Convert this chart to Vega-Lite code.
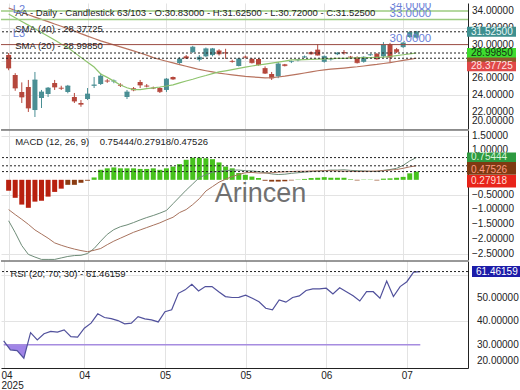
{
"$schema": "https://vega.github.io/schema/vega-lite/v6.json",
"padding": {"left": 0, "top": 3, "right": 0, "bottom": 0},
"spacing": 1,
"bounds": "flush",
"config": {
  "view": {"stroke": null},
  "font": "Liberation Sans",
  "axis": {"labelFont": "Liberation Sans", "labelFontSize": 10, "labelColor": "#222", "gridColor": "#e3e3e3", "domainColor": "#222"},
  "concat": {"spacing": 1}
},
"datasets": {
  "d": [
{"i":0,"o":28.76,"h":29.0,"l":26.95,"c":27.21,"s20":33.64,"s40":34.36,"m":-1.39,"sg":-1.01,"hv":-0.37,"hc":"n1","r":31.7},
{"i":1,"o":26.38,"h":26.6,"l":24.5,"c":24.83,"s20":33.2,"s40":34.08,"m":-1.79,"sg":-1.18,"hv":-0.61,"hc":"n1","r":27.8},
{"i":2,"o":24.36,"h":25.5,"l":23.05,"c":23.76,"s20":32.76,"s40":33.82,"m":-2.23,"sg":-1.34,"hv":-0.84,"hc":"n1","r":27.5},
{"i":3,"o":24.95,"h":25.79,"l":21.98,"c":22.45,"s20":32.32,"s40":33.55,"m":-2.53,"sg":-1.51,"hv":-0.95,"hc":"n1","r":24.2},
{"i":4,"o":22.21,"h":26.74,"l":21.38,"c":25.79,"s20":31.88,"s40":33.27,"m":-2.62,"sg":-1.7,"hv":-0.74,"hc":"n1","r":35.2},
{"i":5,"o":23.64,"h":24.6,"l":22.45,"c":24.36,"s20":31.44,"s40":33.0,"m":-2.7,"sg":-1.84,"hv":-0.71,"hc":"n1","r":32.1},
{"i":6,"o":24.12,"h":24.95,"l":23.76,"c":24.83,"s20":30.99,"s40":32.73,"m":-2.7,"sg":-1.98,"hv":-0.57,"hc":"n1","r":34.7},
{"i":7,"o":25.43,"h":25.79,"l":24.6,"c":24.95,"s20":30.55,"s40":32.45,"m":-2.7,"sg":-2.14,"hv":-0.41,"hc":"n1","r":35.7},
{"i":8,"o":24.85,"h":25.1,"l":24.6,"c":24.8,"s20":30.08,"s40":32.19,"m":-2.65,"sg":-2.22,"hv":-0.3,"hc":"n1","r":35.4},
{"i":9,"o":24.36,"h":25.2,"l":24.2,"c":25.07,"s20":29.64,"s40":31.9,"m":-2.6,"sg":-2.29,"hv":-0.17,"hc":"n2","r":36.4},
{"i":10,"o":23.76,"h":24.24,"l":23.05,"c":23.28,"s20":29.06,"s40":31.62,"m":-2.57,"sg":-2.35,"hv":-0.17,"hc":"n2","r":33.5},
{"i":11,"o":23.05,"h":23.4,"l":22.6,"c":22.9,"s20":28.48,"s40":31.3,"m":-2.56,"sg":-2.4,"hv":-0.1,"hc":"n2","r":33.3},
{"i":12,"o":23.52,"h":24.83,"l":23.4,"c":24.12,"s20":27.9,"s40":31.01,"m":-2.5,"sg":-2.44,"hv":-0.03,"hc":"n2","r":37.1},
{"i":13,"o":25.1,"h":26.14,"l":24.83,"c":25.2,"s20":27.33,"s40":30.73,"m":-2.33,"sg":-2.39,"hv":0.08,"hc":"p","r":39.3},
{"i":14,"o":25.31,"h":26.6,"l":25.19,"c":26.26,"s20":26.51,"s40":30.44,"m":-2.08,"sg":-2.33,"hv":0.34,"hc":"p","r":43.3},
{"i":15,"o":25.7,"h":25.9,"l":25.45,"c":25.65,"s20":26.1,"s40":30.2,"m":-1.85,"sg":-2.2,"hv":0.39,"hc":"p","r":41.7},
{"i":16,"o":25.62,"h":25.85,"l":25.4,"c":25.68,"s20":25.65,"s40":29.96,"m":-1.69,"sg":-2.08,"hv":0.42,"hc":"p","r":41.2},
{"i":17,"o":25.22,"h":25.4,"l":24.95,"c":25.15,"s20":25.19,"s40":29.73,"m":-1.59,"sg":-1.98,"hv":0.39,"hc":"p","r":40.4},
{"i":18,"o":23.76,"h":24.6,"l":23.52,"c":24.36,"s20":24.86,"s40":29.49,"m":-1.53,"sg":-1.88,"hv":0.39,"hc":"p","r":39.0},
{"i":19,"o":24.8,"h":24.95,"l":24.45,"c":24.6,"s20":24.64,"s40":29.25,"m":-1.45,"sg":-1.78,"hv":0.39,"hc":"p","r":39.3},
{"i":20,"o":25.55,"h":25.79,"l":24.83,"c":25.19,"s20":24.64,"s40":29.0,"m":-1.36,"sg":-1.7,"hv":0.37,"hc":"p","r":42.1},
{"i":21,"o":25.1,"h":25.3,"l":24.9,"c":25.05,"s20":24.75,"s40":28.75,"m":-1.28,"sg":-1.62,"hv":0.37,"hc":"p","r":41.1},
{"i":22,"o":24.85,"h":25.0,"l":24.7,"c":24.82,"s20":24.85,"s40":28.45,"m":-1.21,"sg":-1.54,"hv":0.39,"hc":"p","r":40.7},
{"i":23,"o":24.83,"h":24.95,"l":24.24,"c":24.4,"s20":24.95,"s40":28.23,"m":-1.13,"sg":-1.46,"hv":0.34,"hc":"p","r":39.8},
{"i":24,"o":24.6,"h":26.02,"l":24.36,"c":25.9,"s20":25.07,"s40":28.02,"m":-1.04,"sg":-1.36,"hv":0.39,"hc":"p","r":44.2},
{"i":25,"o":26.14,"h":26.2,"l":25.8,"c":25.9,"s20":25.21,"s40":27.82,"m":-0.81,"sg":-1.27,"hv":0.45,"hc":"p","r":45.0},
{"i":26,"o":27.81,"h":28.52,"l":27.7,"c":28.29,"s20":25.44,"s40":27.62,"m":-0.58,"sg":-1.11,"hv":0.53,"hc":"p","r":52.1},
{"i":27,"o":28.6,"h":28.75,"l":28.3,"c":28.4,"s20":25.67,"s40":27.42,"m":-0.35,"sg":-1.01,"hv":0.68,"hc":"p","r":53.6},
{"i":28,"o":29.12,"h":29.85,"l":29.0,"c":29.7,"s20":25.88,"s40":27.23,"m":-0.14,"sg":-0.84,"hv":0.75,"hc":"p","r":56.0},
{"i":29,"o":28.2,"h":28.76,"l":28.0,"c":28.5,"s20":26.11,"s40":27.04,"m":0.08,"sg":-0.64,"hv":0.75,"hc":"p","r":53.1},
{"i":30,"o":28.6,"h":29.65,"l":28.5,"c":29.5,"s20":26.32,"s40":26.89,"m":0.17,"sg":-0.38,"hv":0.73,"hc":"p","r":55.0},
{"i":31,"o":28.75,"h":29.6,"l":28.6,"c":29.5,"s20":26.55,"s40":26.75,"m":0.26,"sg":-0.23,"hv":0.7,"hc":"p","r":55.0},
{"i":32,"o":29.3,"h":29.45,"l":28.7,"c":28.9,"s20":26.75,"s40":26.61,"m":0.29,"sg":-0.08,"hv":0.59,"hc":"p","r":52.8},
{"i":33,"o":29.05,"h":29.5,"l":28.3,"c":29.0,"s20":26.88,"s40":26.5,"m":0.31,"sg":0.02,"hv":0.45,"hc":"p","r":50.7},
{"i":34,"o":28.05,"h":28.2,"l":27.85,"c":28.0,"s20":27.02,"s40":26.4,"m":0.33,"sg":0.11,"hv":0.39,"hc":"p","r":50.3},
{"i":35,"o":27.45,"h":28.4,"l":27.4,"c":28.3,"s20":27.17,"s40":26.31,"m":0.33,"sg":0.18,"hv":0.23,"hc":"p","r":50.4},
{"i":36,"o":28.55,"h":28.7,"l":28.35,"c":28.5,"s20":27.32,"s40":26.21,"m":0.31,"sg":0.24,"hv":0.17,"hc":"p","r":51.3},
{"i":37,"o":28.3,"h":28.4,"l":27.75,"c":27.85,"s20":27.45,"s40":26.15,"m":0.3,"sg":0.25,"hv":0.11,"hc":"p","r":50.0},
{"i":38,"o":28.3,"h":28.4,"l":27.5,"c":27.6,"s20":27.57,"s40":26.1,"m":0.28,"sg":0.23,"hv":0.06,"hc":"p","r":48.5},
{"i":39,"o":27.2,"h":27.4,"l":26.5,"c":26.6,"s20":27.68,"s40":26.05,"m":0.24,"sg":0.23,"hv":-0.03,"hc":"n2","r":45.7},
{"i":40,"o":26.5,"h":26.74,"l":25.79,"c":26.02,"s20":27.8,"s40":26.06,"m":0.2,"sg":0.24,"hv":-0.06,"hc":"n2","r":45.0},
{"i":41,"o":26.2,"h":27.93,"l":26.0,"c":27.7,"s20":27.92,"s40":26.14,"m":0.18,"sg":0.26,"hv":-0.06,"hc":"n2","r":49.3},
{"i":42,"o":27.65,"h":27.7,"l":27.4,"c":27.5,"s20":28.04,"s40":26.24,"m":0.19,"sg":0.27,"hv":-0.05,"hc":"n2","r":48.3},
{"i":43,"o":27.95,"h":28.1,"l":27.8,"c":27.98,"s20":28.17,"s40":26.36,"m":0.22,"sg":0.28,"hv":-0.02,"hc":"n2","r":50.3},
{"i":44,"o":28.15,"h":28.3,"l":28.0,"c":28.2,"s20":28.19,"s40":26.49,"m":0.24,"sg":0.29,"hv":0.01,"hc":"p","r":51.0},
{"i":45,"o":28.5,"h":28.7,"l":28.4,"c":28.55,"s20":28.21,"s40":26.62,"m":0.26,"sg":0.29,"hv":0.03,"hc":"p","r":53.3},
{"i":46,"o":29.1,"h":29.2,"l":28.8,"c":28.9,"s20":28.24,"s40":26.75,"m":0.28,"sg":0.3,"hv":0.06,"hc":"p","r":54.0},
{"i":47,"o":29.4,"h":30.05,"l":28.7,"c":28.75,"s20":28.27,"s40":26.89,"m":0.3,"sg":0.3,"hv":0.07,"hc":"p","r":54.0},
{"i":48,"o":27.95,"h":28.7,"l":27.85,"c":28.6,"s20":28.29,"s40":27.0,"m":0.31,"sg":0.31,"hv":0.09,"hc":"p","r":54.3},
{"i":49,"o":28.25,"h":28.4,"l":28.1,"c":28.3,"s20":28.32,"s40":27.07,"m":0.33,"sg":0.31,"hv":0.07,"hc":"p","r":51.8},
{"i":50,"o":28.85,"h":29.1,"l":28.75,"c":29.0,"s20":28.35,"s40":27.14,"m":0.33,"sg":0.3,"hv":0.07,"hc":"p","r":54.5},
{"i":51,"o":29.1,"h":29.35,"l":28.8,"c":29.0,"s20":28.37,"s40":27.21,"m":0.34,"sg":0.29,"hv":0.07,"hc":"p","r":52.8},
{"i":52,"o":28.55,"h":28.65,"l":28.4,"c":28.5,"s20":28.39,"s40":27.29,"m":0.32,"sg":0.29,"hv":0.02,"hc":"p","r":51.1},
{"i":53,"o":28.5,"h":28.6,"l":27.75,"c":27.85,"s20":28.42,"s40":27.36,"m":0.31,"sg":0.28,"hv":-0.02,"hc":"n2","r":48.8},
{"i":54,"o":27.95,"h":28.6,"l":27.85,"c":28.5,"s20":28.44,"s40":27.45,"m":0.3,"sg":0.29,"hv":0.01,"hc":"p","r":52.8},
{"i":55,"o":28.75,"h":28.9,"l":28.65,"c":28.8,"s20":28.46,"s40":27.55,"m":0.29,"sg":0.29,"hv":0.01,"hc":"p","r":52.8},
{"i":56,"o":28.9,"h":29.0,"l":28.2,"c":28.3,"s20":28.49,"s40":27.64,"m":0.28,"sg":0.3,"hv":-0.02,"hc":"n2","r":50.0},
{"i":57,"o":28.6,"h":30.3,"l":28.5,"c":29.95,"s20":28.51,"s40":27.75,"m":0.32,"sg":0.31,"hv":0.04,"hc":"p","r":57.4},
{"i":58,"o":30.07,"h":30.2,"l":27.8,"c":28.5,"s20":28.58,"s40":27.86,"m":0.35,"sg":0.33,"hv":0.05,"hc":"p","r":50.7},
{"i":59,"o":29.45,"h":29.6,"l":29.0,"c":29.15,"s20":28.69,"s40":27.99,"m":0.39,"sg":0.35,"hv":0.07,"hc":"p","r":55.0},
{"i":60,"o":29.7,"h":30.3,"l":29.6,"c":30.2,"s20":28.79,"s40":28.12,"m":0.49,"sg":0.39,"hv":0.1,"hc":"p","r":57.1},
{"i":61,"o":30.9,"h":31.6,"l":30.8,"c":31.45,"s20":28.89,"s40":28.25,"m":0.64,"sg":0.44,"hv":0.22,"hc":"p","r":61.2},
{"i":62,"o":30.83,"h":31.625,"l":30.72,"c":31.525,"s20":28.9985,"s40":28.37725,"m":0.75444,"sg":0.47526,"hv":0.27918,"hc":"p","r":61.46159}
  ],
  "rsifill": [
{"i":0.44,"v":30},{"i":1,"v":27.8},{"i":2,"v":27.5},{"i":3,"v":24.2},{"i":3.53,"v":30}
  ],
  "ytop": [{"t":22},{"t":24},{"t":26},{"t":28},{"t":30},{"t":32},{"t":34}],
  "ymacd": [{"t":-2.5},{"t":-2},{"t":-1.5},{"t":-1},{"t":-0.5},{"t":0},{"t":0.5},{"t":1}],
  "yrsi": [{"t":30},{"t":40},{"t":50}],
  "one": [{}]
},
"vconcat": [
{
  "width": 467, "height": 126,
  "data": {"name": "d"},
  "layer": [
    {"mark": {"type": "rule", "strokeWidth": 1},
     "encoding": {
       "x": {"field": "i", "type": "quantitative", "title": null, "scale": {"domain": [-0.4, 69.1], "nice": false, "zero": false},
             "axis": {"values": [0,12,24,36,48,60], "grid": true, "labels": false, "ticks": false, "domain": false, "title": null}},
       "y": {"field": "l", "type": "quantitative", "title": null, "scale": {"domain": [19.952, 34.952], "nice": false, "zero": false},
             "axis": {"orient": "right", "values": [20,22,24,26,28,30,32,34], "grid": true, "labels": false, "ticks": false, "domain": true, "title": null}},
       "y2": {"field": "h"},
       "color": {"condition": {"test": "datum.c >= datum.o", "value": "#4a8f94"}, "value": "#b5473c"}
     }},
    {"mark": {"type": "bar", "size": 5},
     "encoding": {
       "x": {"field": "i", "type": "quantitative", "title": null},
       "y": {"field": "o", "type": "quantitative", "title": null},
       "y2": {"field": "c"},
       "color": {"condition": {"test": "datum.c >= datum.o", "value": "#4a8f94"}, "value": "#b5473c"}
     }},
    {"mark": {"type": "tick", "orient": "horizontal", "size": 5, "thickness": 1},
     "encoding": {
       "x": {"field": "i", "type": "quantitative", "title": null},
       "y": {"field": "c", "type": "quantitative", "title": null},
       "color": {"condition": {"test": "datum.c >= datum.o", "value": "#4a8f94"}, "value": "#b5473c"}
     }},
    {"mark": {"type": "line", "color": "#b8735f", "strokeWidth": 1.2},
     "encoding": {"x": {"field": "i", "type": "quantitative", "title": null}, "y": {"field": "s40", "type": "quantitative", "title": null}}},
    {"mark": {"type": "line", "color": "#8fc46e", "strokeWidth": 1.2},
     "encoding": {"x": {"field": "i", "type": "quantitative", "title": null}, "y": {"field": "s20", "type": "quantitative", "title": null}}},
    {"data": {"name": "one"}, "mark": {"type": "rule", "color": "#9ccb80", "strokeWidth": 1.5}, "encoding": {"y": {"datum": 34}}},
    {"data": {"name": "one"}, "mark": {"type": "rule", "color": "#9ccb80", "strokeWidth": 1.5}, "encoding": {"y": {"datum": 33}}},
    {"data": {"name": "one"}, "mark": {"type": "rule", "color": "#9a4a42", "strokeWidth": 1}, "encoding": {"y": {"datum": 30}}},
    {"data": {"name": "one"}, "mark": {"type": "rule", "color": "#222", "strokeWidth": 1, "strokeDash": [2, 2]}, "encoding": {"y": {"datum": 31.525}}},
    {"data": {"name": "one"}, "mark": {"type": "rule", "color": "#222", "strokeWidth": 1, "strokeDash": [2, 2]}, "encoding": {"y": {"datum": 28.9985}}},
    {"data": {"name": "one"}, "mark": {"type": "rule", "color": "#222", "strokeWidth": 1, "strokeDash": [2, 2]}, "encoding": {"y": {"datum": 28.37725}}},
    {"data": {"name": "one"}, "mark": {"type": "text", "align": "left", "baseline": "middle", "fontSize": 9.5, "color": "#222", "text": "AA - Daily - Candlestick 63/103 - O:30.83000 - H:31.62500 - L:30.72000 - C:31.52500"},
     "encoding": {"x": {"datum": 1}, "y": {"datum": 33.82}}},
    {"data": {"name": "one"}, "mark": {"type": "text", "align": "left", "baseline": "middle", "fontSize": 9.5, "color": "#222", "text": "SMA (40) - 28.37725"},
     "encoding": {"x": {"datum": 1}, "y": {"datum": 31.8}}},
    {"data": {"name": "one"}, "mark": {"type": "text", "align": "left", "baseline": "middle", "fontSize": 9.5, "color": "#222", "text": "SMA (20) - 28.99850"},
     "encoding": {"x": {"datum": 1}, "y": {"datum": 29.8}}},
    {"data": {"name": "one"}, "mark": {"type": "text", "align": "left", "baseline": "alphabetic", "fontSize": 11, "color": "#6b7fd7", "text": "L2", "dy": -6.7},
     "encoding": {"x": {"datum": 0.64}, "y": {"datum": 33}}},
    {"data": {"name": "one"}, "mark": {"type": "text", "align": "left", "baseline": "alphabetic", "fontSize": 11, "color": "#6b7fd7", "text": "L3", "dy": -7.3},
     "encoding": {"x": {"datum": 0.64}, "y": {"datum": 30}}},
    {"data": {"name": "one"}, "mark": {"type": "text", "align": "left", "baseline": "alphabetic", "fontSize": 11.5, "color": "#6b7fd7", "text": "34.0000", "dy": -2, "clip": true},
     "encoding": {"x": {"datum": 57.94}, "y": {"datum": 34}}},
    {"data": {"name": "one"}, "mark": {"type": "text", "align": "left", "baseline": "alphabetic", "fontSize": 11.5, "color": "#6b7fd7", "text": "33.0000", "dy": -2},
     "encoding": {"x": {"datum": 57.94}, "y": {"datum": 33}}},
    {"data": {"name": "one"}, "mark": {"type": "text", "align": "left", "baseline": "alphabetic", "fontSize": 11.5, "color": "#6b7fd7", "text": "30.0000", "dy": -2.5},
     "encoding": {"x": {"datum": 57.94}, "y": {"datum": 30}}},
    {"data": {"name": "ytop"}, "mark": {"type": "text", "align": "left", "baseline": "middle", "dx": 9, "fontSize": 10, "color": "#222"},
     "encoding": {"x": {"datum": 69.1}, "y": {"field": "t", "type": "quantitative", "title": null}, "text": {"field": "t", "type": "quantitative", "format": ".5f"}}},
    {"data": {"name": "one"}, "mark": {"type": "text", "align": "left", "baseline": "middle", "dx": 9, "dy": -7.5, "fontSize": 10, "color": "#222", "text": "20.00000"},
     "encoding": {"x": {"datum": 69.1}, "y": {"datum": 20}}},
    {"data": {"name": "one"}, "mark": {"type": "rect", "color": "#8b5a2b", "xOffset": 4, "x2Offset": 53, "yOffset": -5, "y2Offset": 5},
     "encoding": {"x": {"datum": 69.1}, "x2": {"datum": 69.1}, "y": {"datum": 28.37725}, "y2": {"datum": 28.37725}}},
    {"data": {"name": "one"}, "mark": {"type": "rect", "color": "#3ddc2e", "xOffset": 4, "x2Offset": 53, "yOffset": -5, "y2Offset": 4.5},
     "encoding": {"x": {"datum": 69.1}, "x2": {"datum": 69.1}, "y": {"datum": 28.9985}, "y2": {"datum": 28.9985}}},
    {"data": {"name": "one"}, "mark": {"type": "rect", "color": "#e04848", "xOffset": 4, "x2Offset": 53, "yOffset": 3.5, "y2Offset": 13},
     "encoding": {"x": {"datum": 69.1}, "x2": {"datum": 69.1}, "y": {"datum": 28.37725}, "y2": {"datum": 28.37725}}},
    {"data": {"name": "one"}, "mark": {"type": "rect", "color": "#3d8f8f", "xOffset": 4, "x2Offset": 53, "yOffset": -5, "y2Offset": 5},
     "encoding": {"x": {"datum": 69.1}, "x2": {"datum": 69.1}, "y": {"datum": 31.525}, "y2": {"datum": 31.525}}},
    {"data": {"name": "one"}, "mark": {"type": "text", "align": "left", "baseline": "middle", "dx": 8, "fontSize": 10, "color": "#e8f6f6", "text": "31.52500"},
     "encoding": {"x": {"datum": 69.1}, "y": {"datum": 31.525}}},
    {"data": {"name": "one"}, "mark": {"type": "text", "align": "left", "baseline": "middle", "dx": 8, "dy": -0.3, "fontSize": 10, "color": "#143214", "text": "28.99850"},
     "encoding": {"x": {"datum": 69.1}, "y": {"datum": 28.9985}}},
    {"data": {"name": "one"}, "mark": {"type": "text", "align": "left", "baseline": "middle", "dx": 8, "dy": 8.2, "fontSize": 10, "color": "#ffe4e4", "text": "28.37725"},
     "encoding": {"x": {"datum": 69.1}, "y": {"datum": 28.37725}}}
  ]
},
{
  "width": 467, "height": 130,
  "data": {"name": "d"},
  "layer": [
    {"mark": {"type": "bar", "size": 5},
     "encoding": {
       "x": {"field": "i", "type": "quantitative", "title": null, "scale": {"domain": [-0.4, 69.1], "nice": false, "zero": false},
             "axis": {"values": [0,12,24,36,48,60], "grid": true, "labels": false, "ticks": false, "domain": false, "title": null}},
       "y": {"field": "hv", "type": "quantitative", "title": null, "scale": {"domain": [-2.72, 1.69], "nice": false, "zero": false},
             "axis": {"orient": "right", "values": [-2.5,-2,-1.5,-1,-0.5,0,0.5,1,1.5], "grid": true, "labels": false, "ticks": false, "domain": true, "title": null}},
       "y2": {"datum": 0},
       "color": {"field": "hc", "type": "nominal", "scale": {"domain": ["n1","n2","p"], "range": ["#b8200f","#8a3b12","#46c21c"]}, "legend": null}
     }},
    {"mark": {"type": "line", "color": "#6e8c78", "strokeWidth": 1},
     "encoding": {"x": {"field": "i", "type": "quantitative", "title": null}, "y": {"field": "m", "type": "quantitative", "title": null}}},
    {"mark": {"type": "line", "color": "#a8735e", "strokeWidth": 1},
     "encoding": {"x": {"field": "i", "type": "quantitative", "title": null}, "y": {"field": "sg", "type": "quantitative", "title": null}}},
    {"data": {"name": "one"}, "mark": {"type": "rule", "color": "#222", "strokeWidth": 1, "strokeDash": [2, 2]}, "encoding": {"y": {"datum": 0.75444}}},
    {"data": {"name": "one"}, "mark": {"type": "rule", "color": "#222", "strokeWidth": 1, "strokeDash": [2, 2]}, "encoding": {"y": {"datum": 0.47526}}},
    {"data": {"name": "one"}, "mark": {"type": "rule", "color": "#222", "strokeWidth": 1, "strokeDash": [2, 2]}, "encoding": {"y": {"datum": 0.27918}}},
    {"data": {"name": "one"}, "mark": {"type": "rule", "color": "#333", "strokeWidth": 1}, "encoding": {"y": {"datum": 1.69}}},
    {"data": {"name": "one"}, "mark": {"type": "text", "align": "left", "baseline": "middle", "fontSize": 9.5, "color": "#222", "text": "MACD (12, 26, 9)\u00a0\u00a0\u00a0 0.75444/0.27918/0.47526"},
     "encoding": {"x": {"datum": 1}, "y": {"datum": 1.274}}},
    {"data": {"name": "one"}, "mark": {"type": "text", "align": "center", "baseline": "alphabetic", "fontSize": 27, "color": "#707070", "text": "Arincen"},
     "encoding": {"x": {"datum": 38.29}, "y": {"datum": -0.753}}},
    {"data": {"name": "ymacd"}, "mark": {"type": "text", "align": "left", "baseline": "middle", "dx": 9, "fontSize": 10, "color": "#222"},
     "encoding": {"x": {"datum": 69.1}, "y": {"field": "t", "type": "quantitative", "title": null}, "text": {"field": "t", "type": "quantitative", "format": ".5f"}}},
    {"data": {"name": "one"}, "mark": {"type": "rect", "color": "#7e3a12", "xOffset": 4, "x2Offset": 53, "yOffset": -5, "y2Offset": 9},
     "encoding": {"x": {"datum": 69.1}, "x2": {"datum": 69.1}, "y": {"datum": 0.47526}, "y2": {"datum": 0.47526}}},
    {"data": {"name": "one"}, "mark": {"type": "rect", "color": "#2e9a40", "xOffset": 4, "x2Offset": 53, "yOffset": -5, "y2Offset": 4.5},
     "encoding": {"x": {"datum": 69.1}, "x2": {"datum": 69.1}, "y": {"datum": 0.75444}, "y2": {"datum": 0.75444}}},
    {"data": {"name": "one"}, "mark": {"type": "rect", "color": "#e8241a", "xOffset": 4, "x2Offset": 53, "yOffset": 3.5, "y2Offset": 16},
     "encoding": {"x": {"datum": 69.1}, "x2": {"datum": 69.1}, "y": {"datum": 0.27918}, "y2": {"datum": 0.27918}}},
    {"data": {"name": "one"}, "mark": {"type": "text", "align": "left", "baseline": "middle", "dx": 8, "dy": -0.5, "fontSize": 10, "color": "#d8f5d8", "text": "0.75444"},
     "encoding": {"x": {"datum": 69.1}, "y": {"datum": 0.75444}}},
    {"data": {"name": "one"}, "mark": {"type": "text", "align": "left", "baseline": "middle", "dx": 8, "dy": 4.4, "fontSize": 10, "color": "#ff9a80", "text": "0.47526"},
     "encoding": {"x": {"datum": 69.1}, "y": {"datum": 0.47526}}},
    {"data": {"name": "one"}, "mark": {"type": "text", "align": "left", "baseline": "middle", "dx": 8, "dy": 9.6, "fontSize": 10, "color": "#ffdcd4", "text": "0.27918"},
     "encoding": {"x": {"datum": 69.1}, "y": {"datum": 0.27918}}},
    {"data": {"name": "one"}, "mark": {"type": "text", "align": "left", "baseline": "middle", "dx": 9, "fontSize": 10, "color": "#222", "text": "1.50000"},
     "encoding": {"x": {"datum": 69.1}, "y": {"datum": 1.5}}}
  ]
},
{
  "width": 467, "height": 107,
  "data": {"name": "d"},
  "layer": [
    {"data": {"name": "rsifill"}, "mark": {"type": "area", "color": "#9b7de6", "opacity": 0.95},
     "encoding": {
       "x": {"field": "i", "type": "quantitative", "title": null, "scale": {"domain": [-0.4, 69.1], "nice": false, "zero": false},
             "axis": {"values": [0,12,24,36,48,60], "grid": true, "labels": true, "ticks": false, "domain": true, "labelPadding": 2, "labelFlush": 4, "labelFlushOffset": 2.7, "labelLineHeight": 10, "title": null,
                      "labelExpr": "datum.value == 0 ? ['\u00a0\u00a0\u200904', '2025'] : datum.value == 12 ? '04' : (datum.value == 24 || datum.value == 36) ? '05' : datum.value == 48 ? '06' : '07'"}},
       "y": {"field": "v", "type": "quantitative", "title": null, "scale": {"domain": [20, 66], "nice": false, "zero": false},
             "axis": {"orient": "right", "values": [20,30,40,50,60], "grid": true, "labels": false, "ticks": false, "domain": true, "title": null}},
       "y2": {"datum": 30}
     }},
    {"data": {"name": "one"}, "mark": {"type": "rule", "color": "#a68ce0", "strokeWidth": 1.5},
     "encoding": {"x": {"datum": 0}, "x2": {"datum": 62}, "y": {"datum": 30}}},
    {"mark": {"type": "line", "color": "#51519c", "strokeWidth": 1.2},
     "encoding": {"x": {"field": "i", "type": "quantitative", "title": null}, "y": {"field": "r", "type": "quantitative", "title": null}}},
    {"data": {"name": "one"}, "mark": {"type": "rule", "color": "#222", "strokeWidth": 1, "strokeDash": [2, 2]}, "encoding": {"y": {"datum": 61.46159}}},
    {"data": {"name": "one"}, "mark": {"type": "rule", "color": "#333", "strokeWidth": 1}, "encoding": {"y": {"datum": 66}}},
    {"data": {"name": "one"}, "mark": {"type": "text", "align": "left", "baseline": "middle", "fontSize": 9.5, "color": "#222", "text": "RSI (20; 70; 30) - 61.46159"},
     "encoding": {"x": {"datum": 1}, "y": {"datum": 60.42}}},
    {"data": {"name": "yrsi"}, "mark": {"type": "text", "align": "left", "baseline": "middle", "dx": 9, "fontSize": 10, "color": "#222"},
     "encoding": {"x": {"datum": 69.1}, "y": {"field": "t", "type": "quantitative", "title": null}, "text": {"field": "t", "type": "quantitative", "format": ".5f"}}},
    {"data": {"name": "one"}, "mark": {"type": "text", "align": "left", "baseline": "middle", "dx": 9, "dy": -7.5, "fontSize": 10, "color": "#222", "text": "20.00000"},
     "encoding": {"x": {"datum": 69.1}, "y": {"datum": 20}}},
    {"data": {"name": "one"}, "mark": {"type": "rect", "color": "#1c1ca8", "xOffset": 4, "x2Offset": 53, "yOffset": -5.5, "y2Offset": 5.5},
     "encoding": {"x": {"datum": 69.1}, "x2": {"datum": 69.1}, "y": {"datum": 61.46159}, "y2": {"datum": 61.46159}}},
    {"data": {"name": "one"}, "mark": {"type": "text", "align": "left", "baseline": "middle", "dx": 8, "fontSize": 10, "color": "#ffffff", "text": "61.46159"},
     "encoding": {"x": {"datum": 69.1}, "y": {"datum": 61.46159}}}
  ]
}
]
}
